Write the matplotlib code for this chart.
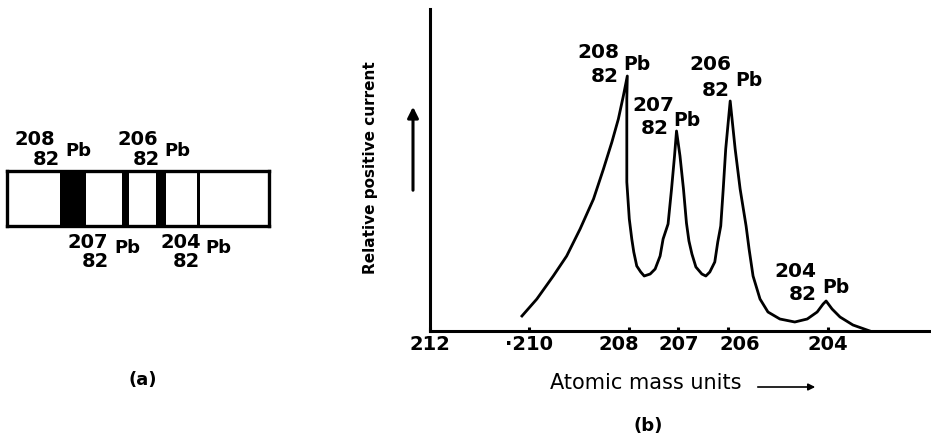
import matplotlib
matplotlib.use("Agg")
import matplotlib.pyplot as plt
import matplotlib.transforms as mtransforms

plt.rcParams['font.family'] = ['DejaVu Sans']

# ---- data ----
# (b) spectrum: mass number (amu) vs relative positive current (arbitrary units)
mass = [210.15, 209.85, 209.52, 209.25, 208.98, 208.71, 208.51, 208.34, 208.21, 208.11,
        208.03, 208.04, 208.04, 207.99, 207.94, 207.90, 207.84, 207.76, 207.69, 207.57,
        207.47, 207.37, 207.31, 207.21, 207.14, 207.08, 207.04, 206.97, 206.90, 206.84,
        206.79, 206.73, 206.65, 206.53, 206.45, 206.37, 206.27, 206.21, 206.15, 206.10,
        206.05, 205.96, 205.86, 205.76, 205.64, 205.58, 205.50, 205.36, 205.20, 204.96,
        204.66, 204.41, 204.21, 204.09, 204.03, 203.91, 203.75, 203.49, 203.15]
current = [15, 32, 55, 75, 102, 132, 162, 189, 212, 235,
           255, 232, 149, 112, 92, 79, 65, 59, 55, 57,
           62, 75, 92, 107, 142, 175, 200, 175, 142, 108,
           90, 77, 64, 57, 55, 59, 69, 89, 105, 142,
           182, 230, 182, 142, 105, 82, 55, 32, 19, 12,
           9, 12, 19, 27, 30, 22, 14, 6, 0]

tick_mass = [212, 210, 208, 207, 206, 204]
tick_text = ['212', '·210', '208', '207', '206', '204']

# (a) photographic plate: band position along plate and band width
isotopes = [208, 207, 206, 204]
Z = 82
band_pos = [66, 118.5, 154, 191.5]
band_width = [26, 7, 10, 3]

fig = plt.figure(figsize=(9.31, 4.39), dpi=100)

# canvas axes in pixel units, for free text
canvas = fig.add_axes([0, 0, 1, 1])
canvas.set_xlim(0, 931)
canvas.set_ylim(439, 0)
canvas.axis('off')

# ---------------- (b) spectrum ----------------
ax = fig.add_axes([430 / 931, 107 / 439, 501 / 931, 322 / 439])
ax.patch.set_alpha(0)
ax.plot(mass, current, color='black', lw=2.0, solid_joinstyle='round', clip_on=False)
ax.set_xlim(212, 212 - 501 / 49.7)
ax.set_ylim(0, 322)
for s in ['top', 'right']:
    ax.spines[s].set_visible(False)
for s in ['left', 'bottom']:
    ax.spines[s].set_linewidth(2.2)
ax.set_yticks([])
ax.set_xticks(tick_mass)
ax.set_xticklabels(tick_text, fontsize=14, fontweight='bold')
ax.tick_params(axis='x', direction='in', length=3, width=2.2, pad=2)
# the printed labels for 208 and 206 sit a little apart from their ticks
shifts = {'208': -10, '206': 12}
for lab in ax.get_xticklabels():
    dx = shifts.get(lab.get_text(), 0)
    if dx:
        lab.set_transform(lab.get_transform() +
                          mtransforms.ScaledTranslation(dx / 100, 0, fig.dpi_scale_trans))


def nuclide(a_xy, z_xy, pb_xy, a, size=14.5):
    kw = dict(fontsize=size, fontweight='bold', ha='center', va='center')
    canvas.text(a_xy[0], a_xy[1], str(a), **kw)
    canvas.text(z_xy[0], z_xy[1], str(Z), **kw)
    canvas.text(pb_xy[0], pb_xy[1], 'Pb', **dict(kw, fontsize=size - 1))


# peak labels in (b)
nuclide((598, 52), (605, 77), (637, 64), isotopes[0])
nuclide((653, 106), (655, 129), (687, 121), isotopes[1])
nuclide((710, 65), (716, 91), (749, 81), isotopes[2])
nuclide((795, 272), (803, 295), (836, 288), isotopes[3])

canvas.text(371, 168, 'Relative positive current', rotation=90, fontsize=11,
            fontweight='bold', ha='center', va='center')
canvas.annotate('', xy=(413, 105), xytext=(413, 194),
                arrowprops=dict(arrowstyle='-|>', lw=2.2, color='black', mutation_scale=16))
canvas.text(646, 383, 'Atomic mass units', fontsize=15, ha='center', va='center')
canvas.annotate('', xy=(818, 388), xytext=(755, 388),
                arrowprops=dict(arrowstyle='-|>', lw=1.2, color='black', mutation_scale=10))
canvas.text(648, 426, '(b)', fontsize=13, fontweight='bold', ha='center', va='center')

# ---------------- (a) plate ----------------
plate = fig.add_axes([7 / 931, (439 - 227) / 439, 262 / 931, 55 / 439])
plate.set_xlim(0, 262)
plate.set_ylim(0, 1)
plate.bar(band_pos, [1] * len(band_pos), width=band_width, bottom=0, color='black')
plate.set_xticks([])
plate.set_yticks([])
for s in plate.spines.values():
    s.set_linewidth(2.4)

nuclide((35, 140), (46, 160), (78, 151), isotopes[0], size=14)
nuclide((138, 140), (146, 160), (177, 151), isotopes[2], size=14)
nuclide((88, 243), (95, 262), (127, 248), isotopes[1], size=14)
nuclide((181, 243), (186, 262), (218, 248), isotopes[3], size=14)
canvas.text(143, 380, '(a)', fontsize=13, fontweight='bold', ha='center', va='center')

fig.savefig('out.png', dpi=100)
